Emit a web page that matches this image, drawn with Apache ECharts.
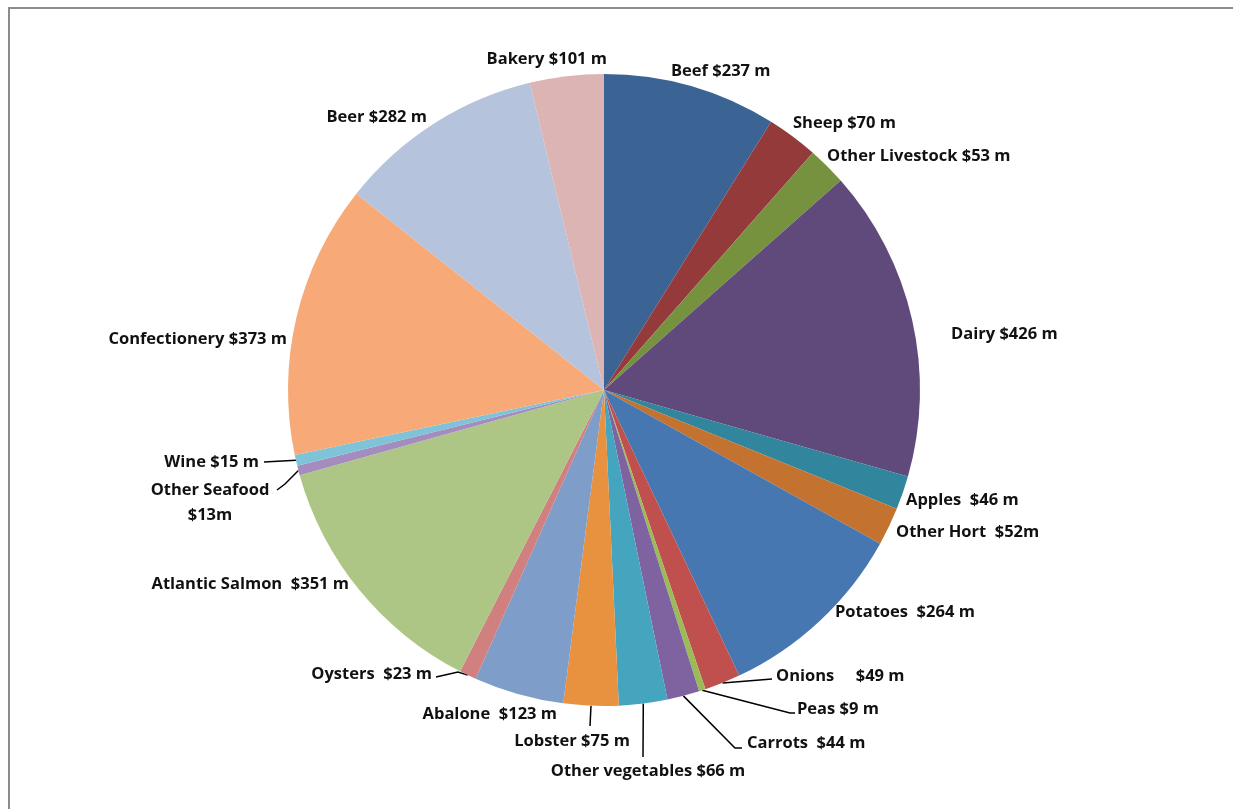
<!DOCTYPE html>
<html><head><meta charset="utf-8">
<script src="https://cdn.jsdelivr.net/npm/echarts@6/dist/echarts.min.js"></script>
<style>html,body{margin:0;padding:0;background:#fff}#c{width:1233px;height:809px}</style>
</head><body><div id="c"></div>
<script>
const categories = ['Beef','Sheep','Other Livestock','Dairy','Apples','Other Hort','Potatoes','Onions','Peas','Carrots','Other vegetables','Lobster','Abalone','Oysters','Atlantic Salmon','Other Seafood','Wine','Confectionery','Beer','Bakery'];
const values = [237,70,53,426,46,52,264,49,9,44,66,75,123,23,351,13,15,373,282,101];
const labelTexts = ['Beef $237 m','Sheep $70 m','Other Livestock $53 m','Dairy $426 m','Apples  $46 m','Other Hort  $52m','Potatoes  $264 m','Onions     $49 m','Peas $9 m','Carrots  $44 m','Other vegetables $66 m','Lobster $75 m','Abalone  $123 m','Oysters  $23 m','Atlantic Salmon  $351 m','Other Seafood\n$13m','Wine $15 m','Confectionery $373 m','Beer $282 m','Bakery $101 m'];
const colors = ['#3B6495','#953A3A','#77923F','#604A7B','#31859C','#C4722F','#4677B0','#C0504D','#9BBB59','#7F62A0','#45A5BE','#E8913F','#7F9DC9','#D0807E','#ADC685','#A48DBE','#7FC3D8','#F7A977','#B6C3DD','#DDB4B4'];

// label anchor layout (presentation only): [x, y, align, linePoints after slice edge]
const labelLayoutTable = {
  'Beef':[671,71,'left'],
  'Sheep':[793,123,'left'],
  'Other Livestock':[827,156,'left'],
  'Dairy':[951,334,'left'],
  'Apples':[906,500,'left'],
  'Other Hort':[896,532,'left'],
  'Potatoes':[835,612,'left'],
  'Onions':[776,676,'left',[[772,679]]],
  'Peas':[797,709,'left',[[790,713],[795,713]]],
  'Carrots':[747,743,'left',[[735,748],[742,748]]],
  'Other vegetables':[648,771,'center',[[643,757]]],
  'Lobster':[572,741,'center',[[590,726]]],
  'Abalone':[557,714,'right'],
  'Oysters':[432,674,'right',[[458,672],[436,677]]],
  'Atlantic Salmon':[349,584,'right'],
  'Other Seafood':[210,503,'center',[[285,484],[277,490]]],
  'Wine':[259,462,'right',[[264,462]]],
  'Confectionery':[287,339,'right'],
  'Beer':[427,117,'right'],
  'Bakery':[607,59,'right']
};

const data = categories.map((n,i)=>({
  name:n, value:values[i],
  itemStyle:{color:colors[i]},
  label:{formatter:labelTexts[i]},
  labelLine:{show: !!(labelLayoutTable[n] && labelLayoutTable[n][3])}
}));

const chart = echarts.init(document.getElementById('c'));
chart.setOption({
  animation:false,
  backgroundColor:'#fff',
  graphic:[{type:'rect',shape:{x:9,y:8,width:1400,height:1000},style:{fill:'none',stroke:'#8c8c8c',lineWidth:2},silent:true}],
  series:[{
    type:'pie',
    center:[604,390],
    radius:316,
    startAngle:90,
    clockwise:true,
    data:data,
    itemStyle:{borderWidth:0},
    label:{show:true,position:'outside',color:'#111',fontFamily:'Open Sans',fontWeight:'bold',fontSize:16.5,lineHeight:25,letterSpacing:0.2},
    labelLine:{length:10,length2:10,lineStyle:{color:'#000',width:1.5}},
    labelLayout:function(p){
      const n = categories[p.dataIndex];
      const t = labelLayoutTable[n];
      if(!t) return {};
      const r = {x:t[0], y:t[1], align:t[2], verticalAlign:'middle'};
      if(t[3] && p.labelLinePoints){
        r.labelLinePoints = [p.labelLinePoints[0]].concat(t[3]);
      }
      return r;
    }
  }]
});
</script></body></html>
